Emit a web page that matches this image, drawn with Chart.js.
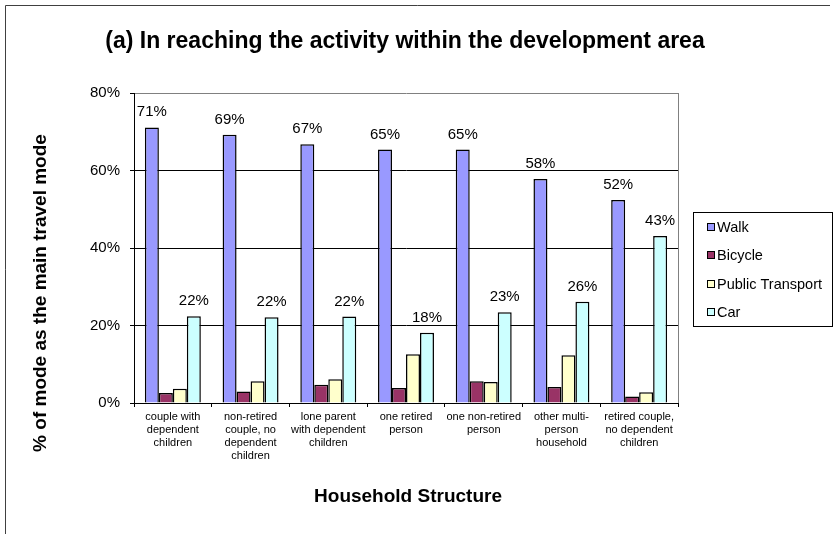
<!DOCTYPE html>
<html><head><meta charset="utf-8">
<style>html,body{margin:0;padding:0;background:#fff}#wrap{position:relative;width:835px;height:534px}</style>
<script src="https://cdn.jsdelivr.net/npm/chart.js@4.4.0/dist/chart.umd.min.js"></script>
</head><body><div id="wrap"><canvas id="c" width="835" height="534"></canvas></div>
<script>
const categories = [
  ["couple with","dependent","children"],
  ["non-retired","couple, no","dependent","children"],
  ["lone parent","with dependent","children"],
  ["one retired","person"],
  ["one non-retired","person"],
  ["other multi-","person","household"],
  ["retired couple,","no dependent","children"]
];
const seriesNames = ["Walk","Bicycle","Public Transport","Car"];
const walk = [71.1, 69.2, 66.8, 65.4, 65.4, 57.8, 52.4];
const bicycle = [2.6, 3.0, 4.7, 3.9, 5.6, 4.1, 1.7];
const publicTransport = [3.7, 5.6, 6.1, 12.6, 5.4, 12.3, 2.8];
const car = [22.4, 22.1, 22.3, 18.1, 23.4, 26.1, 43.1];
const seriesColors = ["#9999FF","#993366","#FFFFCC","#CCFFFF"];
const labelledSeries = [0, 3];
const yMin = 0, yMax = 80, yStep = 20;
const titleText = "(a) In reaching the activity within the development area";
const xTitle = "Household Structure";
const yTitle = "% of mode as the main travel mode";

const FONT = '"Liberation Sans", Arial, sans-serif';

const decor = {
  id: 'decor',
  beforeDraw(chart) {
    const c = chart.ctx;
    c.save();
    c.fillStyle = '#fff';
    c.fillRect(0, 0, chart.width, chart.height);
    c.strokeStyle = '#404040';
    c.lineWidth = 1;
    c.beginPath();
    c.moveTo(5.5, 534); c.lineTo(5.5, 5.5); c.lineTo(830, 5.5);
    c.stroke();
    c.restore();
  },
  afterDraw(chart) {
    const c = chart.ctx, a = chart.chartArea;
    c.save();
    c.strokeStyle = '#808080'; c.lineWidth = 1;
    c.beginPath();
    c.moveTo(Math.round(a.right) + 0.5, a.top);
    c.lineTo(Math.round(a.right) + 0.5, a.bottom);
    c.stroke();
    c.fillStyle = '#000';
    c.font = '15px ' + FONT;
    c.textAlign = 'center'; c.textBaseline = 'alphabetic';
    labelledSeries.forEach(i => {
      const meta = chart.getDatasetMeta(i);
      meta.data.forEach((el, j) => {
        c.fillText(Math.round(chart.data.datasets[i].data[j]) + '%', el.x, el.y - 11);
      });
    });
    c.font = 'bold 23px ' + FONT;
    c.fillText(titleText, 405, 48);
    c.font = 'bold 19px ' + FONT;
    c.fillText(xTitle, 408, 502);
    c.save();
    c.translate(46, 293);
    c.rotate(-Math.PI / 2);
    c.fillText(yTitle, 0, 0);
    c.restore();
    const lx = 693.5, ly = 212.5, lw = 139, lh = 114;
    c.strokeStyle = '#000'; c.lineWidth = 1;
    c.strokeRect(lx, ly, lw, lh);
    c.font = '14.5px ' + FONT;
    c.textAlign = 'left'; c.textBaseline = 'middle';
    chart.data.datasets.forEach((ds, i) => {
      const cy = 227 + i * 28.4;
      c.fillStyle = ds.backgroundColor;
      c.fillRect(707, Math.round(cy - 4), 8, 8);
      c.strokeStyle = '#000';
      c.strokeRect(707.5, Math.round(cy - 4) + 0.5, 7, 7);
      c.fillStyle = '#000';
      c.fillText(ds.label, 717, cy + 1);
    });
    c.restore();
  }
};

const seriesData = [walk, bicycle, publicTransport, car];
new Chart(document.getElementById('c'), {
  type: 'bar',
  data: {
    labels: categories,
    datasets: seriesNames.map((n, i) => ({
      label: n,
      data: seriesData[i],
      backgroundColor: seriesColors[i],
      borderColor: '#000',
      borderWidth: 1.5,
      categoryPercentage: 0.72,
      barPercentage: 1.0
    }))
  },
  options: {
    responsive: false,
    animation: false,
    layout: { padding: { left: 0, top: 93, right: 157, bottom: 0 } },
    plugins: { legend: { display: false }, title: { display: false }, tooltip: { enabled: false } },
    scales: {
      x: {
        offset: true,
        grid: { offset: true, drawOnChartArea: false, drawTicks: true, tickLength: 4, tickColor: '#000' },
        border: { color: '#000', width: 1 },
        ticks: { autoSkip: false, maxRotation: 0, minRotation: 0, color: '#000', padding: 3,
          font: { family: FONT, size: 11, lineHeight: 13 / 11 } },
        afterFit(s) { s.height = 131; }
      },
      y: {
        min: yMin, max: yMax,
        ticks: { stepSize: yStep, color: '#000', padding: 10, callback: v => v + '%',
          font: { family: FONT, size: 15 } },
        grid: { color: ctx => (ctx.tick && ctx.tick.value === yMax) ? '#808080' : '#000',
          tickColor: '#000', tickLength: 4, lineWidth: 1 },
        border: { color: '#000', width: 1 },
        afterFit(s) { s.width = 134; }
      }
    }
  },
  plugins: [decor]
});
</script>
</body></html>
